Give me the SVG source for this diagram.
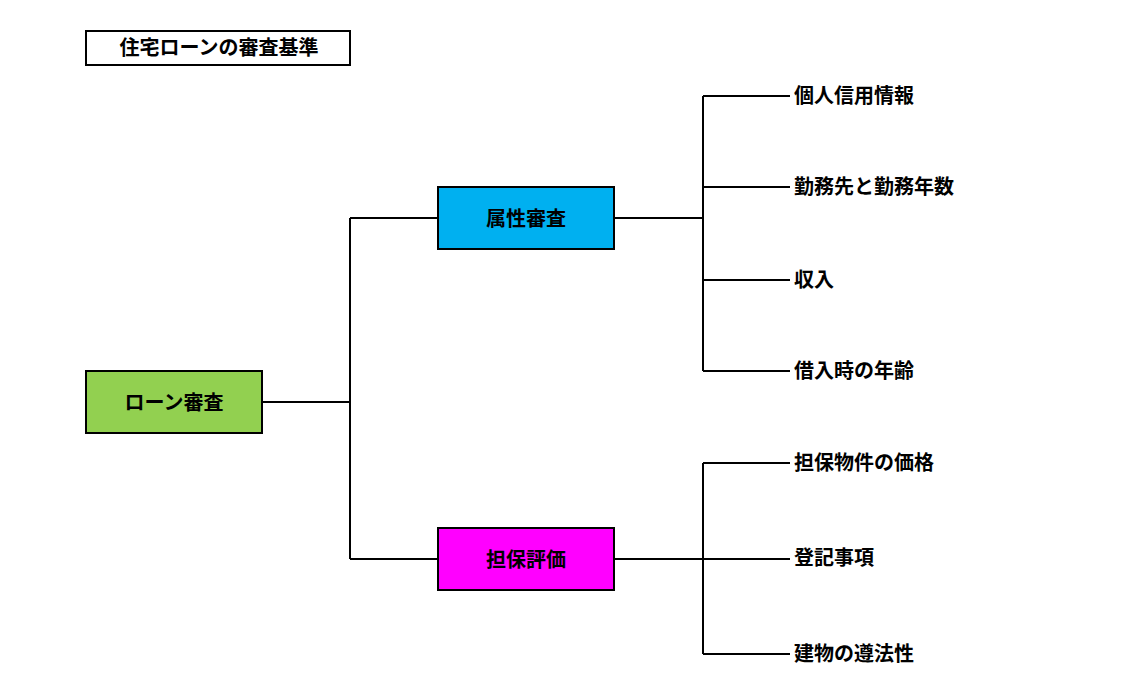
<svg xmlns="http://www.w3.org/2000/svg" width="1143" height="685" viewBox="0 0 1143 685">
<style>
text{font-family:"Noto Sans CJK JP","Noto Sans CJK SC",sans-serif;font-weight:bold;font-size:20px;fill:#000}
.box{stroke:#000;stroke-width:2}
.c text{text-anchor:middle;dominant-baseline:central}
.l text{dominant-baseline:central}
#conn path{fill:none;stroke:#000;stroke-width:2}
</style>
<rect width="1143" height="685" fill="#fff"/>
<g id="title" class="c"><rect class="box" x="86" y="31" width="264" height="34" fill="#fff"/><text x="219" y="46">住宅ローンの審査基準</text></g>
<g id="conn">
<path d="M262 402H350M350 218V559M350 218H438M350 559H438"/>
<path d="M614 218H703M703 96V371M703 96H790M703 187H790M703 280H790M703 371H790"/>
<path d="M614 559H790M703 463V654M703 463H790M703 654H790"/>
</g>
<g id="root" class="c"><rect class="box" x="86" y="371" width="176" height="62" fill="#92d050"/><text x="174" y="401">ローン審査</text></g>
<g id="zokusei" class="c"><rect class="box" x="438" y="187" width="176" height="62" fill="#00b0f0"/><text x="526" y="217">属性審査</text></g>
<g id="tanpo" class="c"><rect class="box" x="438" y="528" width="176" height="62" fill="#ff00ff"/><text x="526" y="558">担保評価</text></g>
<g id="leaf1" class="l"><text x="794" y="94">個人信用情報</text></g>
<g id="leaf2" class="l"><text x="794" y="185">勤務先と勤務年数</text></g>
<g id="leaf3" class="l"><text x="794" y="278">収入</text></g>
<g id="leaf4" class="l"><text x="794" y="369">借入時の年齢</text></g>
<g id="leaf5" class="l"><text x="794" y="461">担保物件の価格</text></g>
<g id="leaf6" class="l"><text x="794" y="556">登記事項</text></g>
<g id="leaf7" class="l"><text x="794" y="652">建物の遵法性</text></g>
</svg>
